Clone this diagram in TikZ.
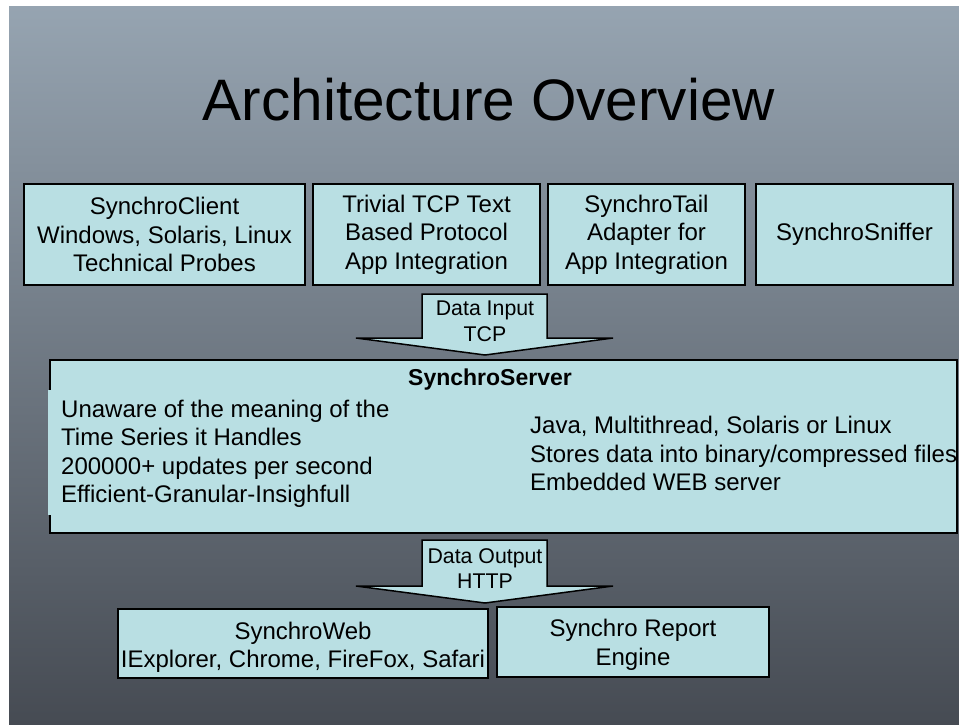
\documentclass[tikz,border=0pt]{standalone}
\usepackage{fontspec}
\setmainfont{Liberation Sans}
\definecolor{boxfill}{RGB}{185,223,227}
\definecolor{bgtop}{RGB}{150,164,177}
\definecolor{bgbot}{RGB}{70,75,83}
\begin{document}
\begin{tikzpicture}[x=1pt,y=-1pt,
  blk/.style={draw=black,line width=1.5pt,fill=boxfill,inner sep=0pt,align=center,
    font=\fontsize{24}{28.5}\selectfont},
  btxt/.style={inner sep=0pt,align=center,font=\fontsize{24}{28.5}\selectfont},
  arrowbody/.style={draw=black,line width=1.5pt,fill=boxfill,line join=miter},
  lbl/.style={inner sep=0pt,align=center,font=\fontsize{21.3}{25.5}\selectfont},
  srvtxt/.style={inner sep=0pt,align=left,anchor=west,font=\fontsize{24}{28.5}\selectfont}]
\useasboundingbox (0,0) rectangle (959,724);
\fill[white] (0,0) rectangle (959,724);
\shade[top color=bgtop,bottom color=bgbot] (9,6) rectangle (959,724);
% title
\node[inner sep=0pt,anchor=base,font=\fontsize{58.5}{70}\selectfont] (title) at (489,120) {Architecture Overview};
% top boxes
\node[blk,minimum width=281pt,minimum height=101pt] (client) at (164.5,234.5) {SynchroClient\\Windows, Solaris, Linux\\Technical Probes};
\node[blk,minimum width=227pt,minimum height=101pt] (tcp) at (426.5,234.5) {Trivial TCP Text\\Based Protocol\\App Integration};
\node[blk,minimum width=197pt,minimum height=101pt] (tail) at (646.5,234.5) {SynchroTail\\Adapter for\\App Integration};
\node[blk,minimum width=197pt,minimum height=101pt] (sniff) at (854.5,234.5) {SynchroSniffer};
% input arrow
\draw[arrowbody] (422,294) -- (547,294) -- (547,338) -- (613,338) -- (485,355) -- (356,338) -- (422,338) -- cycle;
\node[lbl] (inlbl) at (485,321.5) {Data Input\\TCP};
% server
\node[blk,minimum width=907pt,minimum height=173pt] (server) at (503.5,446.5) {};
\fill[boxfill] (48,390) rectangle (60,515);
\node[inner sep=0pt,font=\fontsize{23}{26}\selectfont\bfseries] (srvtitle) at (490,380) {SynchroServer};
\node[srvtxt] (srvleft) at (61,454) {Unaware of the meaning of the\\Time Series it Handles\\200000+ updates per second\\Efficient-Granular-Insighfull};
\node[srvtxt] (srvright) at (530,453.5) {Java, Multithread, Solaris or Linux\\Stores data into binary/compressed files\\Embedded WEB server};
% output arrow
\draw[arrowbody] (422,540) -- (547,540) -- (547,586) -- (613,586) -- (485,603) -- (356,586) -- (422,586) -- cycle;
\node[lbl] (outlbl) at (485,568.5) {Data Output\\HTTP};
% bottom boxes
\node[blk,minimum width=370pt,minimum height=69pt] (web) at (303,643.5) {};
\node[btxt] (webtxt) at (303,647.5) {SynchroWeb\\IExplorer, Chrome, FireFox, Safari};
\node[blk,minimum width=272pt,minimum height=70pt] (report) at (633,642) {};
\node[btxt] (reporttxt) at (633,645) {Synchro Report\\Engine};
\end{tikzpicture}
\end{document}
